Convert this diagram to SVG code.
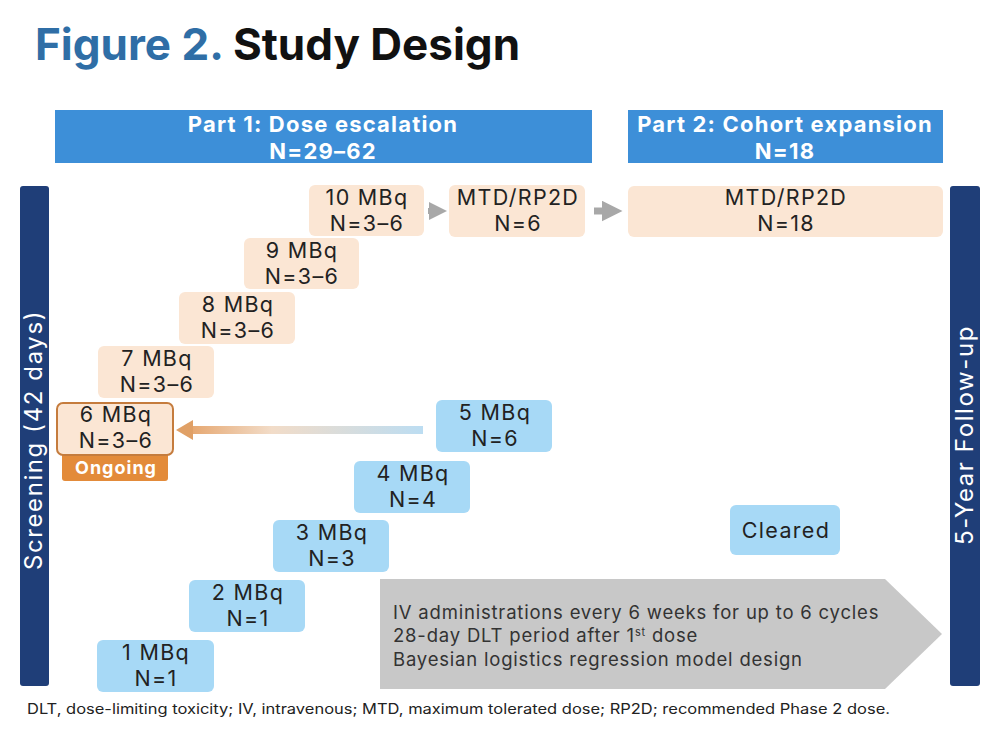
<svg xmlns="http://www.w3.org/2000/svg" width="998" height="742" viewBox="0 0 998 742">
<style>
.t{font-family:Inter,"Open Sans","DejaVu Sans",sans-serif;}
.nd{font-size:21.5px;fill:#222;text-anchor:middle;letter-spacing:1.3px;}
.hd{font-size:22px;font-weight:bold;fill:#fff;text-anchor:middle;letter-spacing:1.2px;}
.bar{fill:#1F3E78;}
.beige{fill:#FBE6D4;}
.blue{fill:#A7D9F6;}
.vt{font-size:24px;fill:#fff;text-anchor:middle;letter-spacing:1.6px;}
.it{font-size:18.5px;fill:#333;letter-spacing:0.8px;}
</style>
<defs>
<linearGradient id="g1" x1="0" y1="0" x2="1" y2="0">
<stop offset="0" stop-color="#E6A770"/>
<stop offset="0.35" stop-color="#F2DCC8"/>
<stop offset="1" stop-color="#BCDDF2"/>
</linearGradient>
<marker id="ga" viewBox="0 0 10 10" refX="5" refY="5" markerWidth="3" markerHeight="3" orient="auto"><path d="M0,0L10,5L0,10z" fill="#A8A8A8"/></marker>
</defs>
<rect width="998" height="742" fill="#fff"/>
<text class="t" x="35" y="60" font-size="44" font-weight="bold"><tspan fill="#2F6EA6">Figure 2.</tspan><tspan fill="#111"> Study Design</tspan></text>

<g id="part1"><rect x="55" y="110" width="537" height="53" fill="#3D8FD8"/><text class="t hd" x="323" y="132">Part 1: Dose escalation</text><text class="t hd" x="323" y="159">N=29–62</text></g>
<g id="part2"><rect x="628" y="110" width="315" height="53" fill="#3D8FD8"/><text class="t hd" x="785" y="132">Part 2: Cohort expansion</text><text class="t hd" x="785" y="159">N=18</text></g>

<g id="screening"><rect class="bar" x="20" y="186" width="29" height="500" rx="3"/><text class="t vt" transform="translate(42,440) rotate(-90)">Screening (42 days)</text></g>
<g id="followup"><rect class="bar" x="950" y="186" width="30" height="500" rx="3"/><text class="t vt" transform="translate(973,435) rotate(-90)">5-Year Follow-up</text></g>

<g id="connectors">
<path d="M428,211H438" stroke="#A8A8A8" stroke-width="6" marker-end="url(#ga)"/>
<path d="M594,211H612" stroke="#A8A8A8" stroke-width="7" marker-end="url(#ga)"/>
<path d="M190,426H423V434H190z" fill="url(#g1)"/>
<path d="M176,430L193,420V440z" fill="#E0A066"/>
</g>

<g id="d10"><rect class="beige" x="309" y="185" width="115" height="51" rx="6"/><text class="t nd" x="367" y="205">10 MBq</text><text class="t nd" x="367" y="231">N=3–6</text></g>
<g id="mtd6"><rect class="beige" x="449" y="185" width="136" height="52" rx="6"/><text class="t nd" x="518" y="205">MTD/RP2D</text><text class="t nd" x="518" y="231">N=6</text></g>
<g id="mtd18"><rect class="beige" x="628" y="186" width="315" height="51" rx="6"/><text class="t nd" x="786" y="205">MTD/RP2D</text><text class="t nd" x="786" y="231">N=18</text></g>
<g id="d9"><rect class="beige" x="244" y="238" width="115" height="51" rx="6"/><text class="t nd" x="302" y="258">9 MBq</text><text class="t nd" x="302" y="284">N=3–6</text></g>
<g id="d8"><rect class="beige" x="179" y="292" width="116" height="52" rx="6"/><text class="t nd" x="238" y="312">8 MBq</text><text class="t nd" x="238" y="338">N=3–6</text></g>
<g id="d7"><rect class="beige" x="98" y="346" width="116" height="52" rx="6"/><text class="t nd" x="157" y="366">7 MBq</text><text class="t nd" x="157" y="392">N=3–6</text></g>
<g id="d6"><rect x="62" y="452" width="106" height="29" rx="3" fill="#E38B3A"/><text class="t" x="116" y="474" font-size="18" font-weight="bold" fill="#fff" text-anchor="middle" letter-spacing="1">Ongoing</text><rect x="57" y="403" width="116" height="52" rx="6" fill="#FBE6D4" stroke="#C57C3D" stroke-width="2"/><text class="t nd" x="116" y="422">6 MBq</text><text class="t nd" x="116" y="448">N=3–6</text></g>

<g id="d5"><rect class="blue" x="436" y="400" width="116" height="52" rx="6"/><text class="t nd" x="495" y="420">5 MBq</text><text class="t nd" x="495" y="446">N=6</text></g>
<g id="d4"><rect class="blue" x="354" y="461" width="116" height="52" rx="6"/><text class="t nd" x="413" y="481">4 MBq</text><text class="t nd" x="413" y="507">N=4</text></g>
<g id="d3"><rect class="blue" x="273" y="520" width="116" height="52" rx="6"/><text class="t nd" x="332" y="540">3 MBq</text><text class="t nd" x="332" y="566">N=3</text></g>
<g id="d2"><rect class="blue" x="189" y="580" width="116" height="52" rx="6"/><text class="t nd" x="248" y="600">2 MBq</text><text class="t nd" x="248" y="626">N=1</text></g>
<g id="d1"><rect class="blue" x="97" y="640" width="117" height="52" rx="6"/><text class="t nd" x="156" y="660">1 MBq</text><text class="t nd" x="156" y="686">N=1</text></g>
<g id="cleared"><rect class="blue" x="730" y="505" width="110" height="50" rx="6"/><text class="t nd" x="786" y="538">Cleared</text></g>

<g id="info"><path d="M380,579H885L942,634L885,689H380z" fill="#C8C8C8"/>
<text class="t it" x="393" y="619">IV administrations every 6 weeks for up to 6 cycles</text>
<text class="t it" x="393" y="642">28-day DLT period after 1<tspan font-size="11" dy="-6">st</tspan><tspan dy="6"> dose</tspan></text>
<text class="t it" x="393" y="666">Bayesian logistics regression model design</text></g>

<text class="t" x="27" y="714" font-size="14" fill="#222" textLength="863" lengthAdjust="spacingAndGlyphs">DLT, dose-limiting toxicity; IV, intravenous; MTD, maximum tolerated dose; RP2D; recommended Phase 2 dose.</text>
</svg>
